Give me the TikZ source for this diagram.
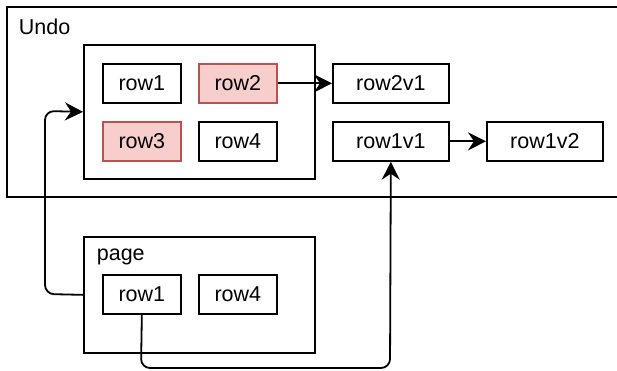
\documentclass[tikz,border=0pt]{standalone}
\usepackage{fontspec}
\setmainfont{Liberation Sans}
\usetikzlibrary{arrows.meta}
\definecolor{pinkfill}{HTML}{F8CECC}
\definecolor{pinkdraw}{HTML}{B85450}
\begin{document}
\begin{tikzpicture}[x=1pt,y=-1pt,
  line width=1.7pt,
  font=\fontsize{21.5}{25}\selectfont,
  rowbox/.style={draw=black, minimum width=78pt, minimum height=39pt, inner sep=0pt, anchor=north west},
  verbox/.style={draw=black, minimum width=116pt, minimum height=39pt, inner sep=0pt, anchor=north west},
  hot/.style={fill=pinkfill, draw=pinkdraw},
  grp/.style={draw=black, inner sep=0pt, anchor=north west},
  arr/.style={-{Stealth[length=18pt,width=18pt,inset=6pt]}, line width=1.8pt},
  lbl/.style={anchor=west, inner sep=0pt}
]
\useasboundingbox (0,0) rectangle (617,370);
% Undo outer group (cut at the right edge)
\draw (619,7) -- (7,7) -- (7,197) -- (619,197);
\node[lbl] (undolbl) at (18,27) {Undo};
% state group
\node[grp, minimum width=231pt, minimum height=134pt] (state) at (83,44) {};
\node[rowbox] (r1) at (102,63) {row1};
\node[rowbox, hot] (r2) at (198,63) {row2};
\node[rowbox, hot] (r3) at (102,121) {row3};
\node[rowbox] (r4) at (198,121) {row4};
\node[verbox] (r2v1) at (332,63) {row2v1};
\node[verbox] (r1v1) at (332,121) {row1v1};
\node[verbox] (r1v2) at (486,121) {row1v2};
% page group
\node[grp, minimum width=231pt, minimum height=116pt] (page) at (83,236) {};
\node[lbl] (pagelbl) at (96,257) {page};
\node[rowbox] (p1) at (102,274) {row1};
\node[rowbox] (p4) at (198,274) {row4};
% connectors
\draw[arr] (r2) -- (r2v1);
\draw[arr] (r1v1) -- (r1v2);
\draw[arr, rounded corners=9pt] (page.west) -- (45,294) -- (45,111) -- (state.west);
\coordinate (c1) at (141,368);
\coordinate (c2) at (390,368);
\draw[arr, rounded corners=9pt] (p1.south) -- (c1) -- (c2) -- (r1v1.south);
\end{tikzpicture}
\end{document}
